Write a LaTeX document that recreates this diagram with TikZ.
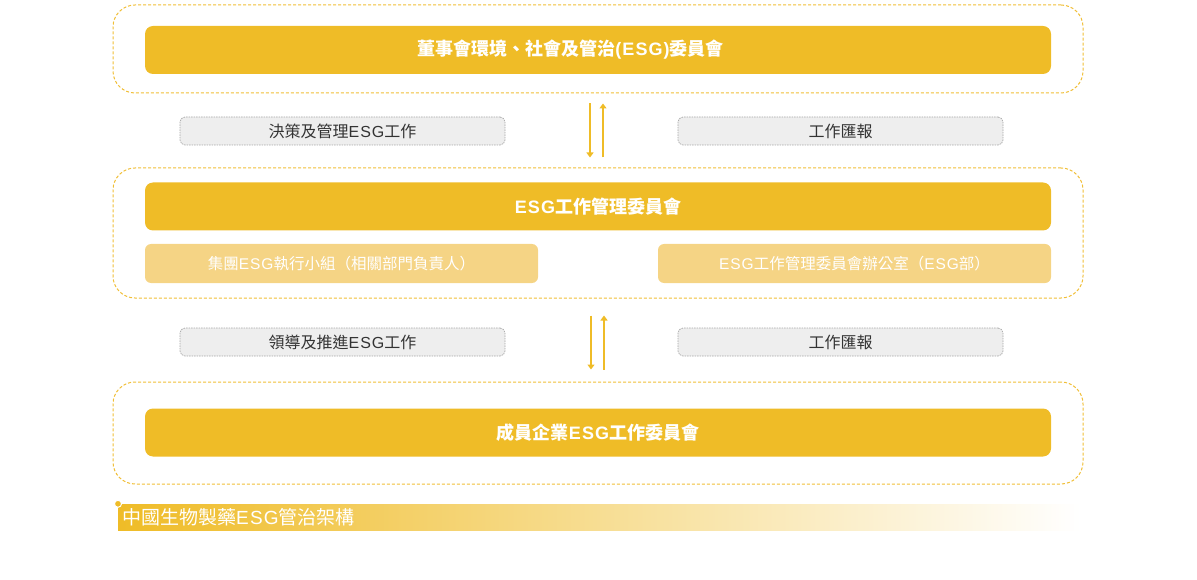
\documentclass[tikz,border=0pt]{standalone}
\usepackage{fontspec}
\setmainfont{Noto Sans CJK TC}
\newfontfamily\latin{Liberation Sans}[LetterSpace=6]
\newcommand{\esg}{{\latin ESG}}
\usetikzlibrary{arrows.meta}

\definecolor{esgyellow}{HTML}{EFBC27}
\definecolor{esglight}{HTML}{F5D485}
\definecolor{esggray}{HTML}{EEEEEE}
\definecolor{esgtext}{HTML}{333333}
\definecolor{esgdash}{HTML}{F0BE36}
\definecolor{esgmid}{HTML}{F1C65A}

\tikzset{
  tier/.style={draw=esgdash, dash pattern=on 3pt off 2pt, line width=1pt, rounded corners=22pt, minimum width=970pt},
  bar/.style={fill=esgyellow, rounded corners=8pt, minimum width=906pt, minimum height=48pt, text=white, font=\bfseries\fontsize{18}{21}\selectfont},
  sub/.style={fill=esglight, rounded corners=6pt, minimum width=393pt, minimum height=39pt, text=white, font=\fontsize{15.5}{19}\selectfont},
  tag/.style={fill=esggray, draw=gray!70, dash pattern=on 1.5pt off 1pt, line width=0.7pt, rounded corners=5pt, minimum width=325pt, minimum height=28pt, text=esgtext, font=\fontsize{16}{19}\selectfont},
  flow/.style={draw=esgyellow, line width=2pt, -{Triangle[width=7pt,length=5pt]}},
  caption/.style={anchor=west, left color=esgyellow, middle color=esgmid, right color=white, minimum width=962pt, minimum height=26pt, text width=954pt, inner xsep=4pt, align=left, text=white, font=\fontsize{19}{22}\selectfont},
}

\begin{document}
\begin{tikzpicture}[x=1pt, y=-1pt]
    \useasboundingbox (0,0) rectangle (1197,580);

    % three tiers
    \node[tier, minimum height=88pt] at (598,49)(tier1){};
    \node[tier, minimum height=130pt] at (598,233)(tier2){};
    \node[tier, minimum height=102pt] at (598,433)(tier3){};

    \node[bar] at (598,50)(board){董事會環境、社會及管治{\latin (ESG)}委員會\hspace*{55pt}};
    \node[bar] at (598,206.5)(mgmt){\esg 工作管理委員會};
    \node[sub] at (341.5,263.5)(group){集團\esg 執行小組（相關部門負責人）};
    \node[sub] at (854.5,263.5)(office){\esg 工作管理委員會辦公室（\esg 部）};
    \node[bar] at (598,432.5)(member){成員企業\esg 工作委員會};

    % labels between tiers
    \node[tag] at (342.5,131)(decide){決策及管理\esg 工作};
    \node[tag] at (840.5,131)(reportA){工作匯報};
    \node[tag] at (342.5,342)(lead){領導及推進\esg 工作};
    \node[tag] at (840.5,342)(reportB){工作匯報};

    \draw[flow, shorten <=10pt, shorten >=10pt] ([xshift=-8pt]tier1.south) -- ([xshift=-8pt]tier2.north);
    \draw[flow, shorten <=10pt, shorten >=10pt] ([xshift=5pt]tier2.north) -- ([xshift=5pt]tier1.south);
    \draw[flow, shorten <=17pt, shorten >=12pt] ([xshift=-7pt]tier2.south) -- ([xshift=-7pt]tier3.north);
    \draw[flow, shorten <=12pt, shorten >=17pt] ([xshift=6pt]tier3.north) -- ([xshift=6pt]tier2.south);

    % caption
    \node[caption] at (118,517)(title){中國生物製藥\esg 管治架構};
    \fill[esgyellow, draw=white, line width=1pt] (title.north west) circle (3.5pt);
\end{tikzpicture}
\end{document}
